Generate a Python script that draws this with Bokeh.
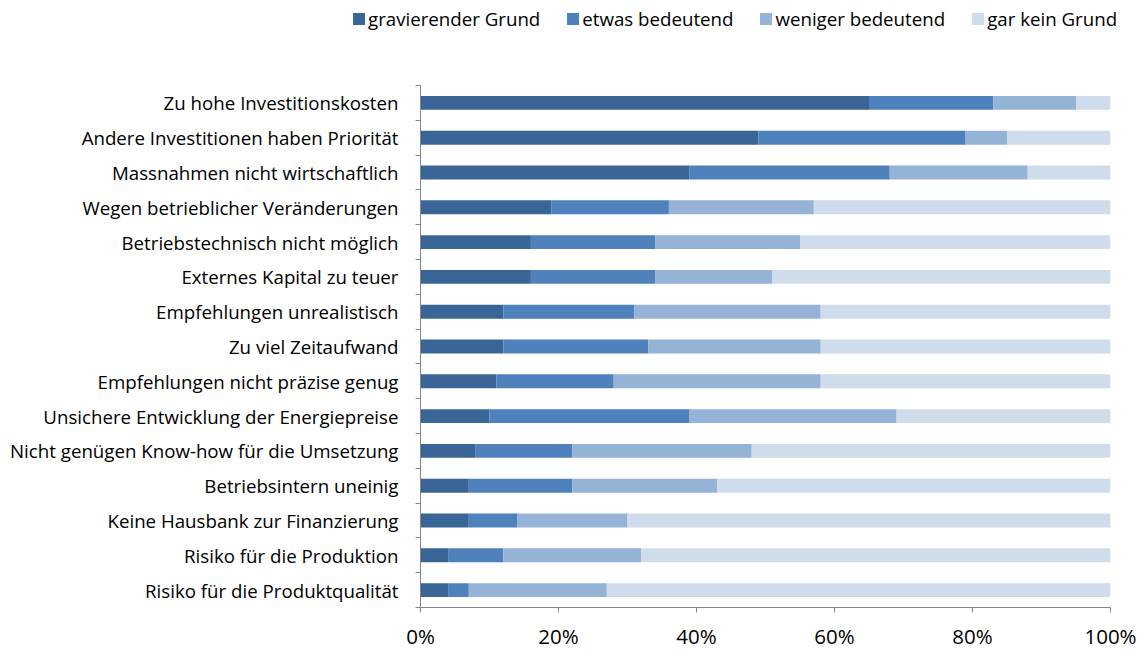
from bokeh.plotting import figure
from bokeh.layouts import column
from bokeh.models import ColumnDataSource, FixedTicker, NumeralTickFormatter, Range1d, Div
from bokeh.embed import file_html
from bokeh.resources import INLINE

categories = [
    "Zu hohe Investitionskosten",
    "Andere Investitionen haben Priorität",
    "Massnahmen nicht wirtschaftlich",
    "Wegen betrieblicher Veränderungen",
    "Betriebstechnisch nicht möglich",
    "Externes Kapital zu teuer",
    "Empfehlungen unrealistisch",
    "Zu viel Zeitaufwand",
    "Empfehlungen nicht präzise genug",
    "Unsichere Entwicklung der Energiepreise",
    "Nicht genügen Know-how für die Umsetzung",
    "Betriebsintern uneinig",
    "Keine Hausbank zur Finanzierung",
    "Risiko für die Produktion",
    "Risiko für die Produktqualität",
]
series_names = ["gravierender Grund", "etwas bedeutend", "weniger bedeutend", "gar kein Grund"]
gravierend = [65, 49, 39, 19, 16, 16, 12, 12, 11, 10, 8, 7, 7, 4, 4]
etwas = [18, 30, 29, 17, 18, 18, 19, 21, 17, 29, 14, 15, 7, 8, 3]
weniger = [12, 6, 20, 21, 21, 17, 27, 25, 30, 30, 26, 21, 16, 20, 20]
gar_kein = [5, 15, 12, 43, 45, 49, 42, 42, 42, 31, 52, 57, 70, 68, 73]
colors = ["#3A6597", "#4F81BD", "#95B3D7", "#CFDCEC"]
x_ticks = [0, 0.2, 0.4, 0.6, 0.8, 1.0]

n = len(categories)
ypos = [n - i for i in range(n)]  # first category at top
series = [gravierend, etwas, weniger, gar_kein]
font = "Open Sans"
axis_col = "#868686"

# ---- legend (HTML strip above the chart) ----
items_html = "".join(
    f'<span style="display:flex;align-items:center;margin-right:27px;">'
    f'<span style="display:inline-block;width:12px;height:12px;background:{c};margin-right:3px;"></span>'
    f'<span>{nm}</span></span>'
    for nm, c in zip(series_names, colors)
)
legend_div = Div(
    text=(f'<div style="position:absolute;left:353px;top:6px;display:flex;align-items:center;'
          f'font-family:\'{font}\';font-size:18.7px;line-height:26px;color:#000;white-space:nowrap;">'
          f'{items_html}</div>'),
    width=1145, height=85, margin=0,
    styles={"position": "relative"},
)

# ---- main chart ----
p = figure(width=1145, height=567, output_backend="svg", toolbar_location=None,
           x_range=Range1d(0, 1), y_range=Range1d(0.5, n + 0.5),
           min_border_left=420, min_border_right=35, min_border_top=0, min_border_bottom=43)
p.outline_line_color = None
p.xgrid.visible = False
p.ygrid.visible = False

left = [0.0] * n
for vals, col in zip(series, colors):
    right = [l + v / 100.0 for l, v in zip(left, vals)]
    src = ColumnDataSource(dict(y=ypos, left=left, right=right))
    p.hbar(y="y", left="left", right="right", height=0.4, source=src,
           fill_color=col, line_color=None)
    left = right

p.xaxis.ticker = FixedTicker(ticks=x_ticks)
p.xaxis.formatter = NumeralTickFormatter(format="0%")
p.xaxis.axis_line_color = axis_col
p.xaxis.major_tick_line_color = axis_col
p.xaxis.major_tick_in = 0
p.xaxis.major_tick_out = 5
p.xaxis.minor_tick_line_color = None
p.xaxis.major_label_text_font = font
p.xaxis.major_label_text_font_size = "20.5px"
p.xaxis.major_label_text_color = "#000000"
p.xaxis.major_label_standoff = 9

p.yaxis.ticker = FixedTicker(ticks=ypos, minor_ticks=[k + 0.5 for k in range(n + 1)])
p.yaxis.major_label_overrides = {y: c for y, c in zip(ypos, categories)}
p.yaxis.axis_line_color = axis_col
p.yaxis.major_tick_line_color = None
p.yaxis.major_tick_in = 0
p.yaxis.major_tick_out = 0
p.yaxis.minor_tick_line_color = axis_col
p.yaxis.minor_tick_in = 0
p.yaxis.minor_tick_out = 5
p.yaxis.major_label_text_font = font
p.yaxis.major_label_text_font_size = "18.7px"
p.yaxis.major_label_text_color = "#000000"
p.yaxis.major_label_standoff = 17

layout = column(legend_div, p, spacing=0)
open("out.html", "w").write(file_html(layout, INLINE))
